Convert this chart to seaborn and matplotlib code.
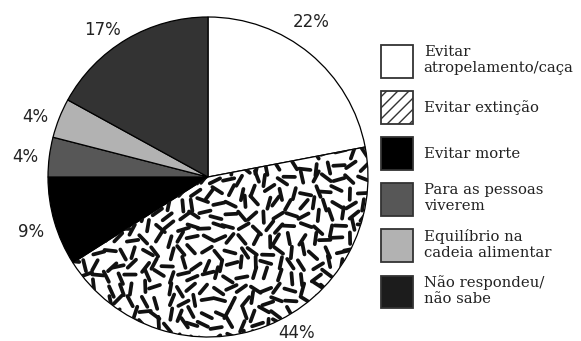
import numpy as np
import matplotlib
matplotlib.use('Agg')
import matplotlib.pyplot as plt
import seaborn as sns
from matplotlib.patches import Rectangle
from matplotlib.collections import LineCollection

# Data
categories = ['Evitar\natropelamento/caça', 'Evitar extinção', 'Evitar morte',
              'Para as pessoas\nviverem', 'Equilíbrio na\ncadeia alimentar',
              'Não respondeu/\nnão sabe']
values = [22, 44, 9, 4, 4, 17]
colors = ['white', 'white', 'black', '#575757', '#b2b2b2', '#333333']
legend_colors = ['white', 'white', 'black', '#575757', '#b2b2b2', '#1c1c1c']
hatches = [None, '///', None, None, None, None]

# label placement tweaks (degrees shift from wedge middle, radial distance)
label_shift = [6, 8, 1, 1, 2.5, 5]
label_dist = [1.16, 1.12, 1.16, 1.15, 1.14, 1.13]

sns.set_style('white')

fig = plt.figure(figsize=(5.81, 3.41), dpi=100)
ax = fig.add_axes([48 / 581, 4 / 341, 320 / 581, 320 / 341])

wedges, _ = ax.pie(values, colors=colors, startangle=90, counterclock=False,
                   wedgeprops=dict(edgecolor='black', linewidth=0.9))
ax.set_xlim(-1, 1)
ax.set_ylim(-1, 1)
ax.set_aspect('equal')
ax.axis('off')

# dash texture for the "Evitar extinção" wedge (jittered grid, random angles)
rng = np.random.default_rng(11)
step = 0.076
gx, gy = np.meshgrid(np.arange(-1, 1.01, step), np.arange(-1, 1.01, step))
cx = gx.ravel() + rng.uniform(-0.022, 0.022, gx.size)
cy = gy.ravel() + rng.uniform(-0.022, 0.022, gy.size)
ang = rng.uniform(0, np.pi, gx.size)
half = 0.036
segs = np.stack([np.column_stack([cx - half * np.cos(ang), cy - half * np.sin(ang)]),
                 np.column_stack([cx + half * np.cos(ang), cy + half * np.sin(ang)])], axis=1)
lc = LineCollection(segs, colors='#111111', linewidths=2.7, capstyle='round')
ax.add_collection(lc)
lc.set_clip_path(wedges[1])

# percentage labels
for i, w in enumerate(wedges):
    mid = np.deg2rad((w.theta1 + w.theta2) / 2 + label_shift[i])
    ax.text(label_dist[i] * np.cos(mid), label_dist[i] * np.sin(mid), f'{values[i]}%',
            ha='center', va='center', fontsize=12, color='#222222',
            family='DejaVu Sans')

handles = [Rectangle((0, 0), 1, 1, facecolor=c, edgecolor='#333333', linewidth=1.3, hatch=h)
           for c, h in zip(legend_colors, hatches)]
fig.legend(handles, categories, loc='upper left',
           bbox_to_anchor=(381 / 581, 1 - 45 / 341), frameon=False,
           prop=dict(family='DejaVu Serif', size=10.7), labelcolor='#222222',
           handlelength=2.15, handleheight=3.0, handletextpad=0.72,
           labelspacing=0.9, borderpad=0, borderaxespad=0)

fig.savefig('out.png', dpi=100)
